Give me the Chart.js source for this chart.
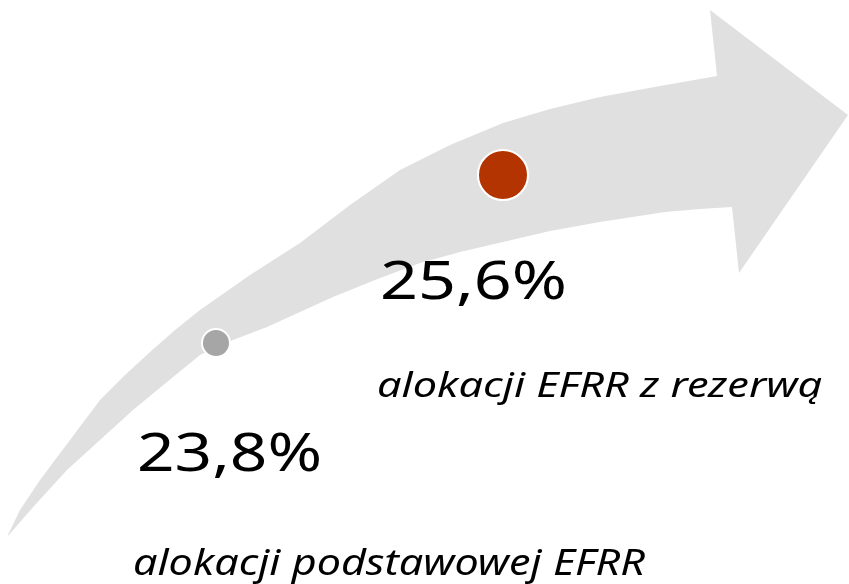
<!DOCTYPE html>
<html>
<head>
<meta charset="utf-8">
<script src="https://cdn.jsdelivr.net/npm/chart.js@4/dist/chart.umd.min.js"></script>
<style>
    html, body { margin: 0; padding: 0; background: #ffffff; }
    #wrap { width: 849px; height: 584px; }
</style>
</head>
<body>
<div id="wrap"><canvas id="arrowChart" width="849" height="584"></canvas></div>
<script>
// Values shown on the arrow
const categories = ["alokacji podstawowej EFRR", "alokacji EFRR z rezerwą"];
const shares = [23.8, 25.6];
const shareLabels = ["23,8%", "25,6%"];
const dotColors = ["#a6a6a6", "#b33400"];
const dotSizes = [14, 25];

// Arrow outline (x, y in page units, y down)
const arrowX = [7, 20, 40, 70, 100, 125, 150, 175, 200, 250, 300, 350, 400, 450, 503, 550, 600, 660, 717,
    710, 848, 739, 732,
    700, 665, 600, 550, 503, 460, 420, 375, 333, 300, 267, 233, 200, 167, 133, 100, 67, 35, 7];
const arrowY = [537, 510, 480, 440, 400, 375, 352, 330, 310, 275, 243, 205, 170, 145, 123, 109, 97, 86, 76,
    10, 115, 273, 207,
    209, 212, 222, 231, 242, 252, 263, 280, 297, 312, 327, 340, 355, 382, 410, 440, 470, 505, 537];

const arrowPoints = arrowX.map((x, i) => ({ x: x, y: arrowY[i] }));
const dotPoints = shares.map((v, i) => ({ x: i, y: v }));

// Text blocks: left, right, baseline, cap height
const textBlocks = [
    { text: shareLabels[1], left: 380, right: 567, base: 299, cap: 38, italic: false },
    { text: categories[1], left: 377, right: 822, base: 397, cap: 25, italic: true },
    { text: shareLabels[0], left: 137, right: 322, base: 471, cap: 38, italic: false },
    { text: categories[0], left: 133, right: 645, base: 575, cap: 26, italic: true }
];

const textPlugin = {
    id: "textPlugin",
    afterDraw(chart) {
        const c = chart.ctx;
        c.save();
        c.fillStyle = "#000000";
        c.textBaseline = "alphabetic";
        c.textAlign = "left";
        textBlocks.forEach(t => {
            const size = t.cap / 0.714;
            c.font = (t.italic ? "italic " : "") + size + "px 'Noto Sans'";
            const w = c.measureText(t.text).width;
            const sx = (t.right - t.left) / w;
            c.save();
            c.translate(t.left, t.base);
            c.scale(sx, 1);
            c.fillText(t.text, 0, 0);
            c.restore();
        });
        c.restore();
    }
};

function drawChart() {
    const ctx = document.getElementById("arrowChart").getContext("2d");

    new Chart(ctx, {
        type: "scatter",
        data: {
            datasets: [
                {
                    label: "arrow",
                    data: arrowPoints,
                    xAxisID: "px",
                    yAxisID: "py",
                    showLine: true,
                    fill: "shape",
                    backgroundColor: "#e0e0e0",
                    borderColor: "#e0e0e0",
                    borderWidth: 0,
                    pointRadius: 0,
                    tension: 0,
                    order: 2
                },
                {
                    label: "shares",
                    data: dotPoints,
                    xAxisID: "idx",
                    yAxisID: "val",
                    pointRadius: dotSizes,
                    pointBackgroundColor: dotColors,
                    pointBorderColor: "#ffffff",
                    pointBorderWidth: 2,
                    order: 1
                }
            ]
        },
        options: {
            responsive: false,
            animation: false,
            layout: { padding: 0, autoPadding: false },
            plugins: {
                legend: { display: false },
                tooltip: { enabled: false }
            },
            scales: {
                px: { type: "linear", axis: "x", min: 0, max: 849, display: false },
                py: { type: "linear", axis: "y", min: 0, max: 584, reverse: true, display: false },
                idx: { type: "linear", axis: "x", min: -0.7526, max: 2.2056, display: false },
                val: { type: "linear", axis: "y", min: 21.218, max: 27.475, display: false }
            }
        },
        plugins: [textPlugin]
    });
}

Promise.all([
    document.fonts.load("53px 'Noto Sans'"),
    document.fonts.load("italic 35px 'Noto Sans'")
]).then(drawChart, drawChart);
</script>
</body>
</html>
